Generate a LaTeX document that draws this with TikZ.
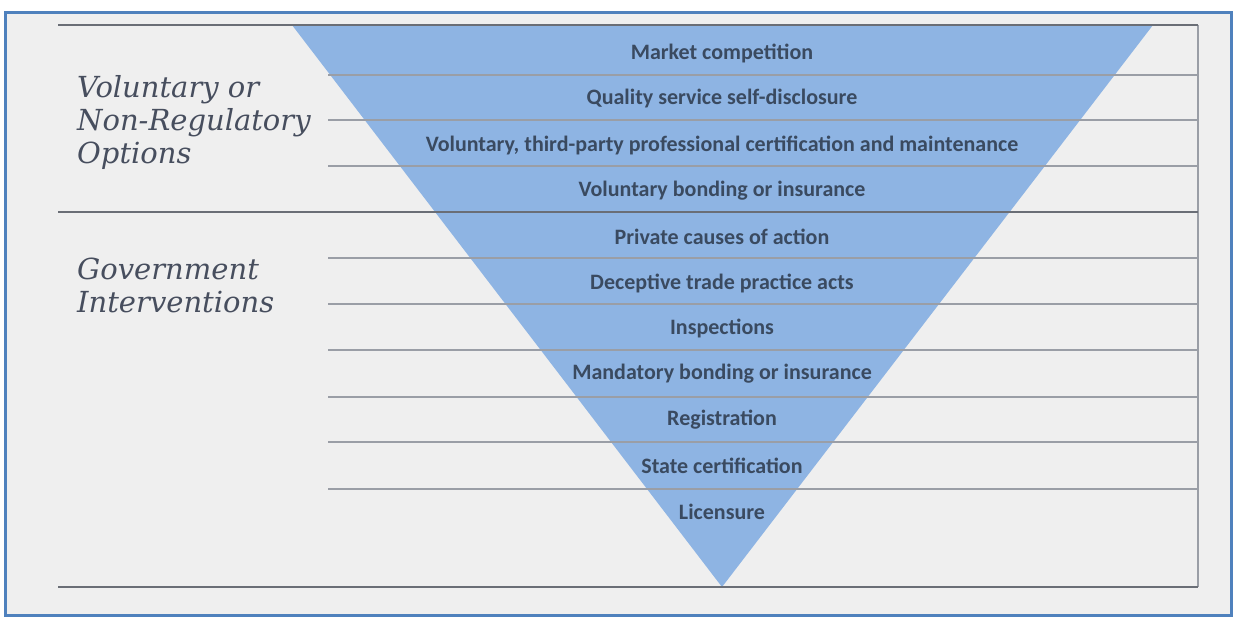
\documentclass[tikz,border=0pt]{standalone}
\usepackage{fontspec}
\setmainfont{Carlito}
\newfontfamily\labelfont{DejaVu Serif}
\definecolor{bgc}{HTML}{EFEFEF}
\definecolor{framec}{HTML}{4F81BD}
\definecolor{trif}{HTML}{8EB4E3}
\definecolor{txtc}{HTML}{3A4A60}
\definecolor{lblc}{HTML}{474E5E}
\definecolor{thinl}{HTML}{9A9EA6}
\definecolor{thickl}{HTML}{6A6E76}
\tikzset{
  rowtext/.style={font=\fontsize{22}{26}\selectfont\bfseries, text=txtc, anchor=center, inner sep=0pt},
  sidetext/.style={font=\labelfont\itshape\fontsize{29}{33}\selectfont, text=lblc, anchor=north west, align=left, inner sep=0pt},
  thinrule/.style={draw=thinl, line width=1.4pt},
  thickrule/.style={draw=thickl, line width=1.9pt},
}
\begin{document}
\begin{tikzpicture}[x=1pt,y=-1pt]
\useasboundingbox (0,0) rectangle (1234,616);
\fill[white] (0,0) rectangle (1234,616);
% frame
\fill[bgc] (5,12) rectangle (1231,615);
\draw[framec, line width=3pt] (5,12) rectangle (1231,615);
% triangle
\coordinate (tl) at (292,25);
\coordinate (tr) at (1153,25);
\coordinate (apex) at (722,587);
\fill[trif] (tl) -- (tr) -- (apex) -- cycle;
% rules
\foreach \yy in {75,120,166,258,304,350,397,442,489}{
  \draw[thinrule] (328,\yy) -- (1198,\yy);
}
\draw[thinrule] (1198,25) -- (1198,587);
\draw[thickrule] (58,25) -- (1198,25);
\draw[thickrule] (58,212) -- (1198,212);
\draw[thickrule] (58,587) -- (1198,587);
% row texts
\node[rowtext] (r1) at (722,53) {Market competition};
\node[rowtext] (r2) at (722,99) {Quality service self-disclosure};
\node[rowtext] (r3) at (722,145) {Voluntary, third-party professional certification and maintenance};
\node[rowtext] (r4) at (722,191) {Voluntary bonding or insurance};
\node[rowtext] (r5) at (722,237) {Private causes of action};
\node[rowtext] (r6) at (722,283) {Deceptive trade practice acts};
\node[rowtext] (r7) at (722,328) {Inspections};
\node[rowtext] (r8) at (722,374) {Mandatory bonding or insurance};
\node[rowtext] (r9) at (722,420) {Registration};
\node[rowtext] (r10) at (722,466) {State certification};
\node[rowtext] (r11) at (722,512) {Licensure};
% side labels
\node[sidetext] (vol) at (77,75) {Voluntary or\\Non-Regulatory\\Options};
\node[sidetext] (gov) at (77,258) {Government\\Interventions};
\end{tikzpicture}
\end{document}
